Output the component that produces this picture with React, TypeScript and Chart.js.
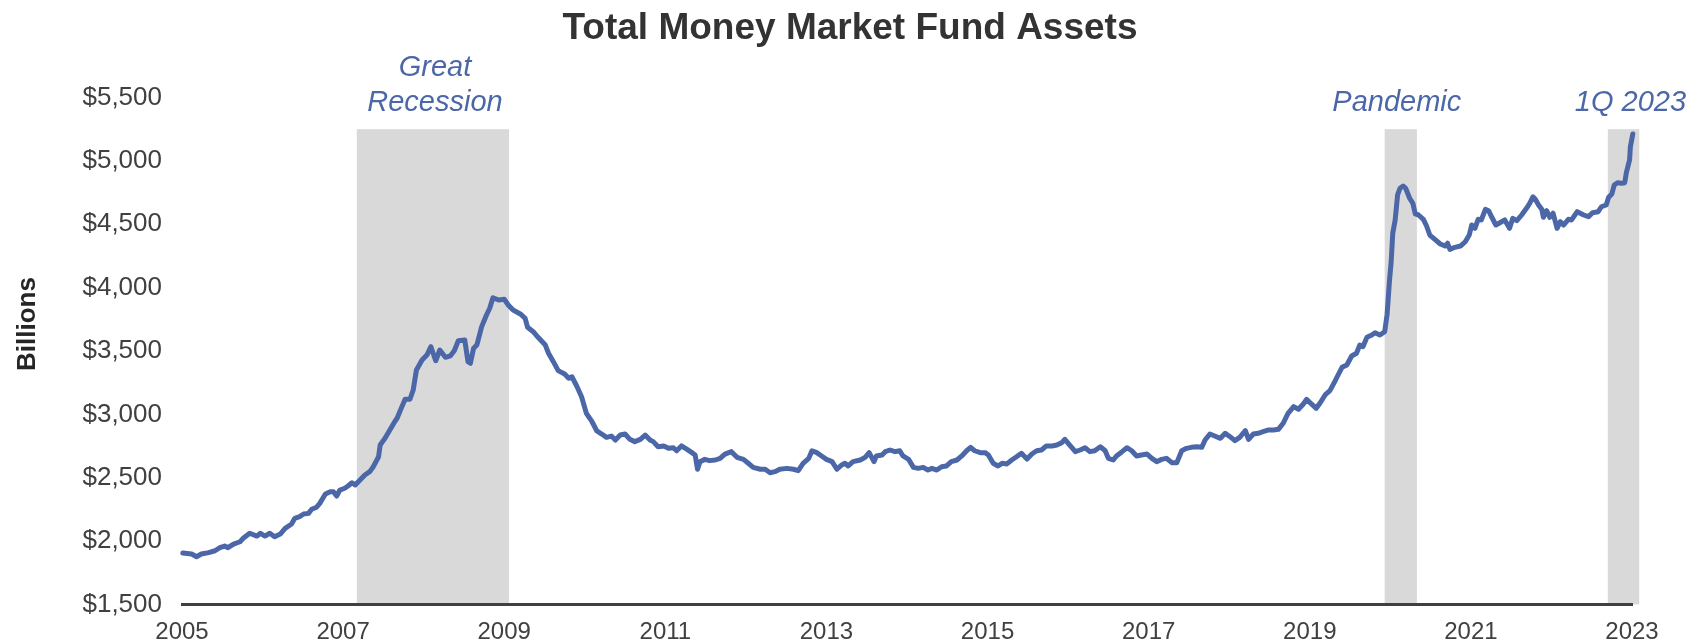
import React, { useEffect, useRef } from "react";
import { Chart, registerables } from "chart.js";

Chart.register(...registerables);

const FONT = "Arial, 'Liberation Sans', sans-serif";

const TITLE = "Total Money Market Fund Assets";
const Y_TITLE = "Billions";

const YEAR_TICKS = [2005, 2007, 2009, 2011, 2013, 2015, 2017, 2019, 2021, 2023];
const VALUE_TICKS = [1500, 2000, 2500, 3000, 3500, 4000, 4500, 5000, 5500];

// decimal years
const dates = [
  2005.01, 2005.12, 2005.18, 2005.24, 2005.33, 2005.41, 2005.47, 2005.53, 2005.57, 2005.64, 2005.72, 2005.76, 2005.84, 2005.93, 2005.97,
  2006.03, 2006.09, 2006.15, 2006.22, 2006.28, 2006.36, 2006.40, 2006.46, 2006.51, 2006.57, 2006.61, 2006.67, 2006.71, 2006.78, 2006.84, 2006.88, 2006.92, 2006.96,
  2007.02, 2007.06, 2007.11, 2007.15, 2007.21, 2007.27, 2007.33, 2007.37, 2007.44, 2007.46, 2007.52, 2007.58, 2007.64,
  2007.67, 2007.73, 2007.77, 2007.83, 2007.87, 2007.91, 2007.98,
  2008.04, 2008.09, 2008.15, 2008.20, 2008.27, 2008.33, 2008.38, 2008.43, 2008.51, 2008.55, 2008.58, 2008.62, 2008.66, 2008.72, 2008.78, 2008.82, 2008.86, 2008.93,
  2009.00, 2009.05, 2009.11, 2009.20, 2009.26, 2009.29, 2009.36, 2009.42, 2009.51, 2009.55, 2009.61, 2009.67, 2009.75, 2009.80, 2009.84, 2009.90, 2009.96,
  2010.02, 2010.09, 2010.15,
  2010.21, 2010.27, 2010.33, 2010.38, 2010.44, 2010.50, 2010.56, 2010.62, 2010.69, 2010.75, 2010.81, 2010.85, 2010.91, 2010.98,
  2011.04, 2011.10, 2011.14, 2011.20, 2011.27, 2011.33, 2011.37, 2011.40, 2011.43, 2011.49, 2011.55, 2011.62, 2011.68, 2011.74, 2011.82, 2011.89, 2011.97,
  2012.03, 2012.09, 2012.18, 2012.24, 2012.30, 2012.36, 2012.42, 2012.51, 2012.59, 2012.65, 2012.71, 2012.78, 2012.82, 2012.88, 2012.94,
  2013.00, 2013.07, 2013.13, 2013.19, 2013.23, 2013.27, 2013.33, 2013.42, 2013.48, 2013.53, 2013.59, 2013.62, 2013.69, 2013.73, 2013.79, 2013.85, 2013.91, 2013.95,
  2014.02, 2014.08, 2014.14, 2014.20, 2014.26, 2014.31, 2014.37, 2014.43, 2014.49, 2014.55, 2014.62, 2014.68, 2014.74, 2014.79, 2014.84, 2014.91, 2014.97,
  2015.01, 2015.07, 2015.13,
  2015.18, 2015.24, 2015.30, 2015.36, 2015.42, 2015.49, 2015.55, 2015.61, 2015.67, 2015.73, 2015.80, 2015.86, 2015.92, 2015.96,
  2016.02, 2016.09, 2016.15, 2016.21, 2016.27, 2016.33, 2016.40, 2016.46, 2016.50, 2016.56, 2016.60, 2016.67, 2016.73, 2016.79, 2016.85, 2016.91, 2016.98,
  2017.04, 2017.10, 2017.16, 2017.22, 2017.29, 2017.35, 2017.41, 2017.47, 2017.53, 2017.60, 2017.66, 2017.70, 2017.76, 2017.82, 2017.89, 2017.95,
  2018.01, 2018.07, 2018.13, 2018.20, 2018.24, 2018.30, 2018.36, 2018.42, 2018.49, 2018.55, 2018.61, 2018.67, 2018.73, 2018.80, 2018.86, 2018.92, 2018.96,
  2019.02, 2019.08, 2019.13, 2019.19, 2019.25, 2019.31,
  2019.34, 2019.40, 2019.46, 2019.52, 2019.58, 2019.62, 2019.66, 2019.71, 2019.77, 2019.81, 2019.87, 2019.93, 2019.96, 2019.99,
  2020.01, 2020.03, 2020.06, 2020.09, 2020.12, 2020.16, 2020.19, 2020.24, 2020.28, 2020.31, 2020.35, 2020.41, 2020.45, 2020.49, 2020.56, 2020.62, 2020.68, 2020.71, 2020.74, 2020.80, 2020.87, 2020.93, 2020.98,
  2021.01, 2021.05, 2021.09, 2021.13, 2021.18, 2021.22, 2021.26, 2021.31, 2021.36, 2021.42, 2021.48, 2021.52, 2021.57, 2021.63, 2021.69, 2021.73, 2021.77, 2021.80, 2021.84, 2021.88, 2021.90, 2021.94, 2021.98,
  2022.02, 2022.07, 2022.11, 2022.15, 2022.21, 2022.25, 2022.32, 2022.40, 2022.46, 2022.51, 2022.58, 2022.62, 2022.68, 2022.71, 2022.75, 2022.78, 2022.82, 2022.87, 2022.91, 2022.93, 2022.97, 2022.98,
  2023.01,
];

// $ billions
const assets = [
  1906, 1898, 1877, 1898, 1909, 1924, 1948, 1961, 1948, 1977, 1995, 2022, 2062, 2040, 2062,
  2040, 2062, 2035, 2056, 2101, 2135, 2180, 2193, 2214, 2219, 2251, 2267, 2298, 2372, 2390, 2390, 2356, 2403,
  2417, 2435, 2461, 2443, 2482, 2522, 2548, 2582, 2666, 2758, 2811, 2877, 2942,
  2969, 3061, 3119, 3119, 3192, 3350, 3429,
  3468, 3534, 3423, 3508, 3450, 3461, 3502, 3581, 3587, 3416, 3403, 3521, 3547, 3692, 3784, 3837, 3920, 3902,
  3908, 3863, 3823, 3792, 3758, 3687, 3652, 3608, 3547, 3482, 3416, 3345, 3318, 3285, 3297, 3224, 3139,
  3008, 2942, 2869,
  2845, 2819, 2829, 2798, 2837, 2845, 2803, 2785, 2803, 2837, 2798, 2785, 2745, 2751,
  2732, 2737, 2713, 2751, 2724, 2698, 2680, 2567, 2627, 2645, 2635, 2640, 2653, 2687, 2706, 2661, 2645,
  2614, 2582, 2567, 2567, 2540, 2548, 2567, 2574, 2567, 2556, 2614, 2653, 2713, 2698, 2672,
  2645, 2627, 2567, 2601, 2614, 2593, 2627, 2640, 2661, 2698, 2627, 2672, 2680, 2706, 2719, 2706, 2713, 2672,
  2645, 2582, 2574, 2582, 2561, 2574, 2561, 2587, 2593, 2627, 2640, 2672, 2713, 2740, 2713, 2698, 2698,
  2680, 2614, 2593,
  2614, 2609, 2640, 2666, 2693, 2648, 2687, 2713, 2719, 2751, 2751, 2758, 2777, 2803,
  2758, 2706, 2719, 2737, 2706, 2713, 2745, 2713, 2653, 2640, 2672, 2706, 2737, 2713, 2672, 2680, 2687,
  2653, 2627, 2645, 2653, 2619, 2619, 2713, 2732, 2740, 2745, 2740, 2798, 2845, 2829, 2811, 2851,
  2824, 2793, 2819, 2871, 2803, 2845, 2851, 2863, 2877, 2877, 2882, 2930, 3008, 3061, 3040, 3082, 3119,
  3082, 3048, 3092, 3153, 3187, 3258,
  3297, 3371, 3390, 3461, 3482, 3547, 3534, 3608, 3626, 3644, 3626, 3652, 3790, 4060,
  4200, 4429, 4534, 4731, 4784, 4802, 4784, 4705, 4665, 4581, 4573, 4539, 4486, 4415, 4376, 4344, 4328, 4350, 4302, 4318, 4328, 4362, 4415,
  4494, 4468, 4539, 4534, 4618, 4607, 4555, 4494, 4512, 4534, 4468, 4547, 4528, 4573, 4626, 4665, 4717, 4697, 4652, 4618, 4555, 4607, 4555,
  4587, 4468, 4520, 4494, 4539, 4534, 4599, 4573, 4560, 4591, 4599, 4638, 4652, 4713, 4739, 4810, 4828, 4823, 4828, 4907, 5007, 5112,
  5212,
];

// shaded periods
const shadeLabels = [["Great", "Recession"], ["Pandemic"], ["1Q 2023"]];
const shadeStart = [2007.17, 2019.93, 2022.7];
const shadeEnd = [2009.06, 2020.33, 2023.09];
const shadeLabelX = [2008.14, 2020.08, 2022.98];
const SHADE_TOP = 5250;

const LINE_COLOR = "#4c67a8";
const TEXT_COLOR = "#404040";

const overlayPlugin = {
  id: "overlay",
  beforeDraw(chart: any) {
    const { ctx } = chart;
    const x = chart.scales.x;
    const y = chart.scales.y;
    ctx.save();
    ctx.fillStyle = "#d9d9d9";
    const top = y.getPixelForValue(SHADE_TOP);
    const bottom = y.getPixelForValue(VALUE_TICKS[0]);
    for (let i = 0; i < shadeStart.length; i++) {
      const x0 = x.getPixelForValue(shadeStart[i]);
      const x1 = x.getPixelForValue(shadeEnd[i]);
      ctx.fillRect(x0, top, x1 - x0, bottom - top);
    }
    ctx.restore();
  },
  afterDraw(chart: any) {
    const { ctx } = chart;
    const x = chart.scales.x;
    const y = chart.scales.y;
    ctx.save();
    // title
    ctx.fillStyle = "#333333";
    ctx.font = `bold 37px ${FONT}`;
    ctx.textAlign = "center";
    ctx.textBaseline = "alphabetic";
    ctx.fillText(TITLE, chart.width / 2, 39);

    // annotations
    ctx.fillStyle = LINE_COLOR;
    ctx.font = `italic 29px ${FONT}`;
    const top = y.getPixelForValue(SHADE_TOP);
    for (let i = 0; i < shadeLabels.length; i++) {
      const lines = shadeLabels[i];
      const cx = x.getPixelForValue(shadeLabelX[i]);
      for (let j = 0; j < lines.length; j++) {
        const base = top - 18 - (lines.length - 1 - j) * 35;
        ctx.fillText(lines[j], cx, base);
      }
    }

    // y axis title
    ctx.fillStyle = "#262626";
    ctx.font = `bold 26px ${FONT}`;
    ctx.translate(28, 324);
    ctx.rotate(-Math.PI / 2);
    ctx.textBaseline = "middle";
    ctx.fillText(Y_TITLE, 0, 0);
    ctx.restore();
  },
};

export default function App() {
  const ref = useRef<HTMLCanvasElement | null>(null);

  useEffect(() => {
    if (!ref.current) return;
    Chart.defaults.font.family = FONT;
    const chart = new Chart(ref.current, {
      type: "line",
      data: {
        datasets: [
          {
            data: dates.map((d, i) => ({ x: d, y: assets[i] })),
            borderColor: LINE_COLOR,
            borderWidth: 5,
            pointRadius: 0,
            tension: 0,
            borderJoinStyle: "round",
            borderCapStyle: "round",
            fill: false,
            clip: false as any,
          },
        ],
      },
      options: {
        animation: false,
        responsive: false,
        maintainAspectRatio: false,
        layout: { padding: { top: 97.5, right: 68, bottom: 0, left: 0 } },
        plugins: {
          legend: { display: false },
          tooltip: { enabled: false },
          title: { display: false },
        },
        scales: {
          x: {
            type: "linear",
            min: YEAR_TICKS[0],
            max: YEAR_TICKS[YEAR_TICKS.length - 1],
            afterBuildTicks: (scale: any) => {
              scale.ticks = YEAR_TICKS.map((v) => ({ value: v }));
            },
            afterFit: (scale: any) => {
              scale.height = 39.5;
            },
            grid: { display: false, drawTicks: false },
            border: { display: true, color: "#404040", width: 3 },
            ticks: {
              autoSkip: false,
              maxRotation: 0,
              padding: 13,
              color: TEXT_COLOR,
              font: { size: 24, family: FONT },
              callback: (v: any) => String(v),
            },
          },
          y: {
            type: "linear",
            min: VALUE_TICKS[0],
            max: VALUE_TICKS[VALUE_TICKS.length - 1],
            afterBuildTicks: (scale: any) => {
              scale.ticks = VALUE_TICKS.map((v) => ({ value: v }));
            },
            afterFit: (scale: any) => {
              scale.width = 182;
            },
            grid: { display: false, drawTicks: false },
            border: { display: false },
            ticks: {
              padding: 20,
              color: TEXT_COLOR,
              font: { size: 26, family: FONT },
              callback: (v: any) => "$" + Number(v).toLocaleString("en-US"),
            },
          },
        },
      },
      plugins: [overlayPlugin],
    } as any);
    return () => chart.destroy();
  }, []);

  return (
    <div style={{ position: "fixed", left: 0, top: 0, width: 1700, height: 644, background: "#ffffff" }}>
      <canvas ref={ref} width={1700} height={644} style={{ display: "block" }} />
    </div>
  );
}
